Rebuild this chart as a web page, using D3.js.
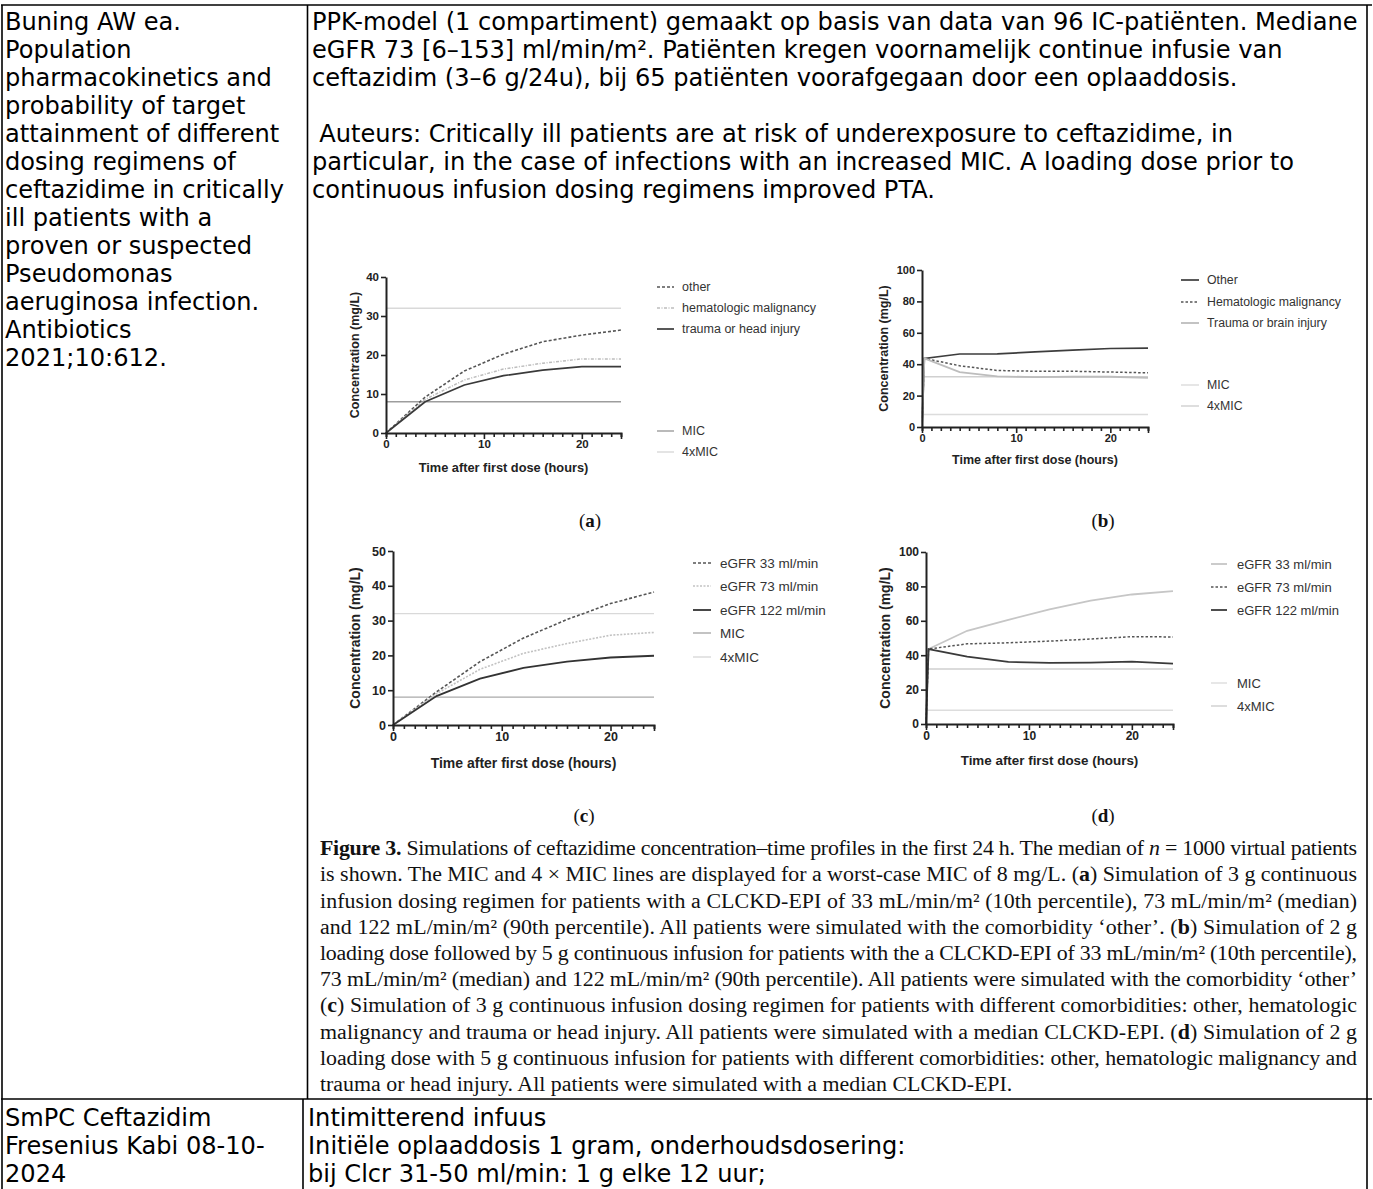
<!DOCTYPE html>
<html><head><meta charset="utf-8">
<script src="https://cdn.jsdelivr.net/npm/d3@7"></script>
<style>body{margin:0;background:#fff;overflow:hidden} svg{display:block}</style>
</head><body>
<svg id="chart" width="1373" height="1189"></svg>
<script>
// ---------------- DATA ----------------
const hours = [0, 4, 8, 12, 16, 20, 24];
const hoursLoad = [0, 0.25, 4, 8, 12, 16, 20, 24];
const micLevels = [8, 32];
const refNames = ["MIC", "4xMIC"];
const xTickLabels = [0, 10, 20];

const aSeriesNames = ["other", "hematologic malignancy", "trauma or head injury"];
const aOther  = [0, 9.2, 15.9, 20.2, 23.4, 25.1, 26.4];
const aHemat  = [0, 8.6, 13.6, 16.4, 17.9, 19.0, 19.0];
const aTrauma = [0, 8.0, 12.3, 14.7, 16.1, 17.0, 17.0];
const aYTicks = [0, 10, 20, 30, 40];

const bSeriesNames = ["Other", "Hematologic malignancy", "Trauma or brain injury"];
const bOther  = [0, 43.7, 46.5, 46.6, 47.8, 49.0, 50.0, 50.2];
const bHemat  = [0, 43.7, 39.0, 36.0, 35.5, 35.5, 35.0, 34.5];
const bTrauma = [0, 43.7, 35.0, 32.2, 31.8, 32.0, 32.0, 31.3];
const bYTicks = [0, 20, 40, 60, 80, 100];

const cSeriesNames = ["eGFR 33 ml/min", "eGFR 73 ml/min", "eGFR 122 ml/min"];
const cEgfr33  = [0, 9.5, 18.2, 25.0, 30.3, 34.9, 38.2];
const cEgfr73  = [0, 9.0, 16.0, 20.6, 23.4, 25.8, 26.6];
const cEgfr122 = [0, 8.3, 13.3, 16.4, 18.2, 19.4, 19.9];
const cYTicks = [0, 10, 20, 30, 40, 50];

const dSeriesNames = ["eGFR 33 ml/min", "eGFR 73 ml/min", "eGFR 122 ml/min"];
const dEgfr33  = [0, 43.6, 54.2, 60.6, 66.7, 71.7, 75.3, 77.3];
const dEgfr73  = [0, 43.6, 46.6, 47.2, 48.2, 49.4, 50.8, 50.6];
const dEgfr122 = [0, 43.6, 39.2, 36.1, 35.5, 35.7, 36.3, 35.1];
const dYTicks = [0, 20, 40, 60, 80, 100];

const col1Top = ["Buning AW ea.", "Population", "pharmacokinetics and", "probability of target",
  "attainment of different", "dosing regimens of", "ceftazidime in critically", "ill patients with a",
  "proven or suspected", "Pseudomonas", "aeruginosa infection.", "Antibiotics", "2021;10:612."];
const col2Top = ["PPK-model (1 compartiment) gemaakt op basis van data van 96 IC-patiënten. Mediane",
  "eGFR 73 [6–153] ml/min/m². Patiënten kregen voornamelijk continue infusie van",
  "ceftazidim (3–6 g/24u), bij 65 patiënten voorafgegaan door een oplaaddosis.",
  "",
  " Auteurs: Critically ill patients are at risk of underexposure to ceftazidime, in",
  "particular, in the case of infections with an increased MIC. A loading dose prior to",
  "continuous infusion dosing regimens improved PTA."];
const col1Bottom = ["SmPC Ceftazidim", "Fresenius Kabi 08-10-", "2024"];
const col2Bottom = ["Intimitterend infuus", "Initiële oplaaddosis 1 gram, onderhoudsdosering:",
  "bij Clcr 31-50 ml/min: 1 g elke 12 uur;"];
const captionLines = [
  "**Figure 3.** Simulations of ceftazidime concentration–time profiles in the first 24 h. The median of _n_ = 1000 virtual patients",
  "is shown. The MIC and 4 × MIC lines are displayed for a worst-case MIC of 8 mg/L. (**a**) Simulation of 3 g continuous",
  "infusion dosing regimen for patients with a CLCKD-EPI of 33 mL/min/m² (10th percentile), 73 mL/min/m² (median)",
  "and 122 mL/min/m² (90th percentile). All patients were simulated with the comorbidity ‘other’. (**b**) Simulation of 2 g",
  "loading dose followed by 5 g continuous infusion for patients with the a CLCKD-EPI of 33 mL/min/m² (10th percentile),",
  "73 mL/min/m² (median) and 122 mL/min/m² (90th percentile). All patients were simulated with the comorbidity ‘other’",
  "(**c**) Simulation of 3 g continuous infusion dosing regimen for patients with different comorbidities: other, hematologic",
  "malignancy and trauma or head injury. All patients were simulated with a median CLCKD-EPI. (**d**) Simulation of 2 g",
  "loading dose with 5 g continuous infusion for patients with different comorbidities: other, hematologic malignancy and",
  "trauma or head injury. All patients were simulated with a median CLCKD-EPI."];
const panelLetters = ["a", "b", "c", "d"];

// ---------------- DRAWING ----------------
const svg = d3.select("#chart");
const MAIN_FONT = "'DejaVu Sans', 'Noto Sans', sans-serif";
const SERIF = "'Liberation Serif', 'DejaVu Serif', serif";
const SANS = "'Liberation Sans', Arial, sans-serif";

function measure(txt, family, size, weight) {
  const t = svg.append("text").attr("font-family", family).attr("font-size", size)
    .attr("font-weight", weight || "normal").text(txt);
  const w = t.node().getComputedTextLength();
  t.remove();
  return w;
}

// main text size fitted to first line width
const mainSize = 20 * 1046 / measure(col2Top[0], MAIN_FONT, 20);
const lineStep = 28;

function mainLines(lines, x, yCenter0, maxW) {
  lines.forEach((s, i) => {
    if (!s) return;
    const lead = s.startsWith(" ") ? mainSize * 0.3 : 0;
    const t = svg.append("text").attr("x", x + lead)
      .attr("y", yCenter0 + i * lineStep + mainSize * 0.36)
      .attr("font-family", MAIN_FONT).attr("font-size", mainSize).attr("fill", "#000")
      .text(s.trim());
    const w = t.node().getComputedTextLength();
    if (w > maxW) t.attr("textLength", maxW).attr("lengthAdjust", "spacingAndGlyphs");
  });
}
mainLines(col1Top, 5, 21, 294);
mainLines(col2Top, 312, 21, 1050);
mainLines(col1Bottom, 5, 1117, 290);
mainLines(col2Bottom, 308, 1117, 1050);

// table borders
const border = (x1, y1, x2, y2) => svg.append("line").attr("x1", x1).attr("y1", y1)
  .attr("x2", x2).attr("y2", y2).attr("stroke", "#000").attr("stroke-width", 1.6);
border(1, 5, 1372, 5);
border(2, 5, 2, 1189);
border(1367, 5, 1367, 1189);
border(307.5, 5, 307.5, 1099);
border(1, 1099, 1372, 1099);
border(303, 1099, 303, 1189);

// caption
function parseSegs(s) {
  return s.split(/(\*\*[^*]+\*\*|_[^_]+_)/).filter(d => d.length).map(d => {
    if (d.startsWith("**")) return { t: d.slice(2, -2), w: "bold", st: "normal" };
    if (d.startsWith("_")) return { t: d.slice(1, -1), w: "normal", st: "italic" };
    return { t: d, w: "normal", st: "normal" };
  });
}
const capX0 = 320, capX1 = 1357, capW = capX1 - capX0;
function addCapLine(s, y, size, justify) {
  const t = svg.append("text").attr("x", capX0).attr("y", y)
    .attr("font-family", SERIF).attr("font-size", size).attr("fill", "#111");
  parseSegs(s).forEach(seg => t.append("tspan").attr("font-weight", seg.w)
    .attr("font-style", seg.st).text(seg.t));
  if (justify) t.attr("textLength", capW).attr("lengthAdjust", "spacing");
  return t;
}
let natW = [];
captionLines.slice(0, 9).forEach(s => {
  const t = addCapLine(s, -100, 20, false);
  natW.push(t.node().getComputedTextLength()); t.remove();
});
const capSize = 20 * capW / d3.median(natW);
captionLines.forEach((s, i) => addCapLine(s, 848 + i * 26.2 + capSize * 0.33, capSize, i < 9));

// panels
const panels = [
  { x0: 386, x1: 621, yb: 433, yt: 277, ymax: 40, yTicks: aYTicks, t: hours,
    series: [
      { name: aSeriesNames[0], v: aOther, color: "#555", dash: "3,2", w: 1.6 },
      { name: aSeriesNames[1], v: aHemat, color: "#bdbdbd", dash: "3,1.5,1,1.5", w: 1.5 },
      { name: aSeriesNames[2], v: aTrauma, color: "#3a3a3a", dash: null, w: 1.7 }],
    refColors: ["#9d9d9d", "#d9d9d9"], tickFs: 11.5, yTitleFs: 12.5, xTitleFs: 12.8, legFs: 12.5,
    yTitleX: 355, xTitleY: 467, tickLabelDy: 11,
    legend: { x1: 657, x2: 674, tx: 682, rows: [287, 308, 329, 431, 452] },
    label: { x: 590, y: 520 } },
  { x0: 922, x1: 1148, yb: 427, yt: 270, ymax: 100, yTicks: bYTicks, t: hoursLoad,
    series: [
      { name: bSeriesNames[0], v: bOther, color: "#3d3d3d", dash: null, w: 1.7 },
      { name: bSeriesNames[1], v: bHemat, color: "#555", dash: "2.5,2", w: 1.5 },
      { name: bSeriesNames[2], v: bTrauma, color: "#bdbdbd", dash: null, w: 1.8 }],
    refColors: ["#dcdcdc", "#d0d0d0"], tickFs: 11, yTitleFs: 12.5, xTitleFs: 12.5, legFs: 12.3,
    yTitleX: 884, xTitleY: 460, tickLabelDy: 11,
    legend: { x1: 1181, x2: 1199, tx: 1207, rows: [280, 302, 323, 385, 406] },
    label: { x: 1103, y: 520 } },
  { x0: 393, x1: 654, yb: 725, yt: 551, ymax: 50, yTicks: cYTicks, t: hours,
    series: [
      { name: cSeriesNames[0], v: cEgfr33, color: "#555", dash: "3,2", w: 1.6 },
      { name: cSeriesNames[1], v: cEgfr73, color: "#c2c2c2", dash: "2,1.5", w: 1.6 },
      { name: cSeriesNames[2], v: cEgfr122, color: "#333", dash: null, w: 1.8 }],
    refColors: ["#aaaaaa", "#d9d9d9"], tickFs: 12.5, yTitleFs: 14, xTitleFs: 14, legFs: 13.5,
    yTitleX: 355, xTitleY: 763, tickLabelDy: 12,
    legend: { x1: 693, x2: 711, tx: 720, rows: [563, 586, 610, 633, 657] },
    label: { x: 584, y: 815 } },
  { x0: 926, x1: 1173, yb: 724, yt: 552, ymax: 100, yTicks: dYTicks, t: hoursLoad,
    series: [
      { name: dSeriesNames[0], v: dEgfr33, color: "#c6c6c6", dash: null, w: 1.8 },
      { name: dSeriesNames[1], v: dEgfr73, color: "#555", dash: "2.5,2", w: 1.5 },
      { name: dSeriesNames[2], v: dEgfr122, color: "#3a3a3a", dash: null, w: 1.8 }],
    refColors: ["#dddddd", "#cfcfcf"], tickFs: 12, yTitleFs: 14, xTitleFs: 13.4, legFs: 13,
    yTitleX: 885, xTitleY: 760, tickLabelDy: 12,
    legend: { x1: 1211, x2: 1227, tx: 1237, rows: [564, 587, 610, 683, 706] },
    label: { x: 1103, y: 815 } }
];

panels.forEach((p, pi) => {
  const g = svg.append("g");
  const x = d3.scaleLinear().domain([0, 24]).range([p.x0, p.x1]);
  const y = d3.scaleLinear().domain([0, p.ymax]).range([p.yb, p.yt]);

  micLevels.forEach((v, i) => g.append("line")
    .attr("x1", x(0)).attr("x2", x(24)).attr("y1", y(v)).attr("y2", y(v))
    .attr("stroke", p.refColors[i]).attr("stroke-width", 1.4));

  const line = d3.line().x(d => x(d[0])).y(d => y(d[1]));
  p.series.forEach(s => g.append("path")
    .datum(p.t.map((t, i) => [t, s.v[i]]))
    .attr("d", line).attr("fill", "none").attr("stroke", s.color)
    .attr("stroke-width", s.w).attr("stroke-dasharray", s.dash));

  const ya = g.append("g").attr("transform", `translate(${p.x0},0)`)
    .call(d3.axisLeft(y).tickValues(p.yTicks).tickSize(5).tickSizeOuter(0).tickPadding(2));
  const xa = g.append("g").attr("transform", `translate(0,${p.yb})`)
    .call(d3.axisBottom(x).tickValues(d3.range(0, 25)).tickSizeOuter(0)
      .tickSize(4).tickPadding(3).tickFormat(d => xTickLabels.includes(d) ? d : ""));
  xa.selectAll(".tick line").attr("y2", d => (xTickLabels.includes(d) || d === 24) ? 6 : 4);
  [ya, xa].forEach(a => {
    a.select(".domain").attr("stroke", "#222").attr("stroke-width", 2);
    a.selectAll(".tick line").attr("stroke", "#222").attr("stroke-width", 1.6);
    a.selectAll(".tick text").attr("font-family", SANS).attr("font-weight", "bold")
      .attr("font-size", p.tickFs).attr("fill", "#222");
  });
  xa.selectAll(".tick text").attr("dy", null).attr("y", p.tickLabelDy)
    .attr("dominant-baseline", "central");

  g.append("text").attr("transform", `translate(${p.yTitleX},${(p.yb + p.yt) / 2}) rotate(-90)`)
    .attr("text-anchor", "middle").attr("dominant-baseline", "central")
    .attr("font-family", SANS).attr("font-weight", "bold").attr("font-size", p.yTitleFs)
    .attr("fill", "#222").text("Concentration (mg/L)");
  g.append("text").attr("x", (p.x0 + p.x1) / 2).attr("y", p.xTitleY)
    .attr("text-anchor", "middle").attr("dominant-baseline", "central")
    .attr("font-family", SANS).attr("font-weight", "bold").attr("font-size", p.xTitleFs)
    .attr("fill", "#222").text("Time after first dose (hours)");

  const items = p.series.map(s => ({ name: s.name, color: s.color, dash: s.dash, w: s.w }))
    .concat(refNames.map((n, i) => ({ name: n, color: p.refColors[i], dash: null, w: 1.4 })));
  items.forEach((it, i) => {
    const ry = p.legend.rows[i];
    g.append("line").attr("x1", p.legend.x1).attr("x2", p.legend.x2).attr("y1", ry).attr("y2", ry)
      .attr("stroke", it.color).attr("stroke-width", it.w).attr("stroke-dasharray", it.dash);
    g.append("text").attr("x", p.legend.tx).attr("y", ry).attr("dominant-baseline", "central")
      .attr("font-family", SANS).attr("font-size", p.legFs).attr("fill", "#333").text(it.name);
  });

  const lt = g.append("text").attr("x", p.label.x).attr("y", p.label.y)
    .attr("text-anchor", "middle").attr("dominant-baseline", "central")
    .attr("font-family", SERIF).attr("font-size", 19).attr("fill", "#111");
  lt.append("tspan").text("(");
  lt.append("tspan").attr("font-weight", "bold").text(panelLetters[pi]);
  lt.append("tspan").text(")");
});
</script>
</body></html>
